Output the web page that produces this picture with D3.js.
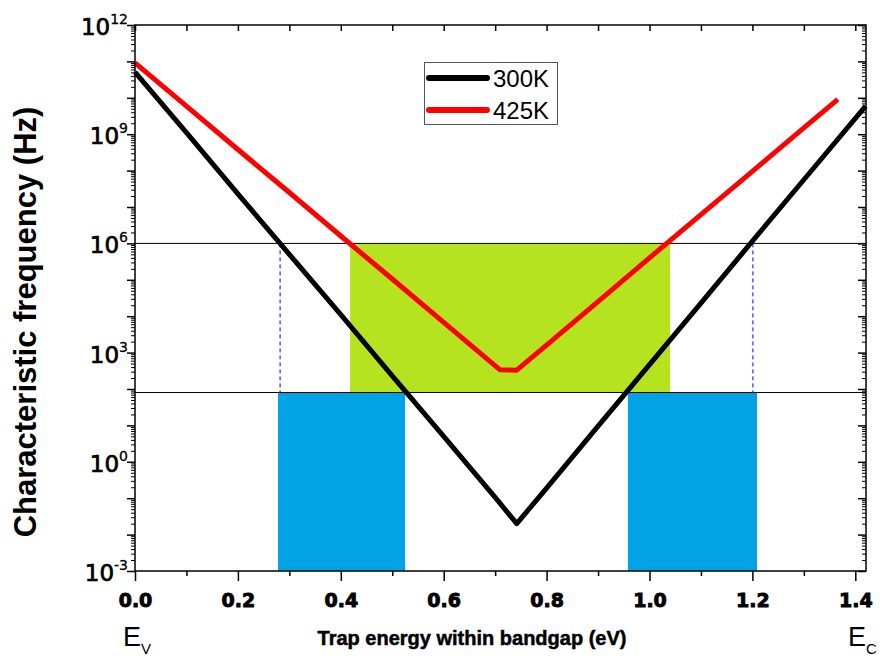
<!DOCTYPE html>
<html>
<head>
<meta charset="utf-8">
<script src="https://cdn.jsdelivr.net/npm/d3@7"></script>
<style>
  body { margin: 0; background: #fff; }
  svg { display: block; }
</style>
</head>
<body>
<script>
// trap energy (eV) and characteristic frequency (Hz)
var energy300 = [0, 0.1, 0.2, 0.3, 0.4, 0.5, 0.6, 0.7, 0.742, 0.8, 0.9, 1.0, 1.1, 1.2, 1.3, 1.42]
var freq300 = [5.1e10, 1.1e9, 2.3e7, 5.0e5, 1.1e4, 230, 5.0, 0.105, 0.02, 0.19, 9.5, 470, 2.3e4, 1.15e6, 5.6e7, 5.9e9]
var energy425 = [0, 0.1, 0.2, 0.3, 0.4, 0.5, 0.6, 0.709, 0.742, 0.8, 0.9, 1.0, 1.1, 1.2, 1.3, 1.366]
var freq425 = [9.1e10, 5.9e9, 3.8e8, 2.5e7, 1.6e6, 1.05e5, 6.8e3, 340, 330, 1.6e3, 2.5e4, 4.0e5, 6.2e6, 9.5e7, 1.5e9, 9.1e9]

var seriesNames = ['300K', '425K']
var seriesColors = ['#000000', '#ff0000']

// measurement window
var freqWindow = [80, 1e6]
var greenRange = [0.418, 1.04]
var blueRanges = [[0.278, 0.525], [0.958, 1.209]]
var dashedAt = [0.282, 1.201]

var xTicks = [0, 0.2, 0.4, 0.6, 0.8, 1.0, 1.2, 1.4]
var xMinor = [0.1, 0.3, 0.5, 0.7, 0.9, 1.1, 1.3]
var yLabelExp = [-3, 0, 3, 6, 9, 12]

var width = 881
var height = 659
var plotLeft = 135
var plotRight = 866
var plotTop = 25
var plotBottom = 571

var svg = d3.select('body').append('svg')
  .attr('width', width)
  .attr('height', height)

var x = d3.scaleLinear().domain([0, 1.4208]).range([plotLeft, plotRight])
var y = d3.scaleLog().domain([1e-3, 1e12]).range([plotBottom, plotTop])

// shaded regions
svg.append('rect')
  .attr('x', x(greenRange[0]))
  .attr('y', y(freqWindow[1]))
  .attr('width', x(greenRange[1]) - x(greenRange[0]))
  .attr('height', y(freqWindow[0]) - y(freqWindow[1]))
  .style('fill', '#b5e31f')

svg.selectAll('rect.blue')
  .data(blueRanges)
  .enter().append('rect')
  .attr('class', 'blue')
  .attr('x', function (d) { return x(d[0]) })
  .attr('y', y(freqWindow[0]))
  .attr('width', function (d) { return x(d[1]) - x(d[0]) })
  .attr('height', y(1e-3) - y(freqWindow[0]))
  .style('fill', '#02a3e4')

// window limits
svg.selectAll('line.hwin')
  .data(freqWindow)
  .enter().append('line')
  .attr('class', 'hwin')
  .attr('x1', plotLeft)
  .attr('x2', plotRight)
  .attr('y1', function (d) { return y(d) })
  .attr('y2', function (d) { return y(d) })
  .style('stroke', '#000')
  .style('stroke-width', 1)

svg.selectAll('line.vdash')
  .data(dashedAt)
  .enter().append('line')
  .attr('class', 'vdash')
  .attr('x1', function (d) { return x(d) })
  .attr('x2', function (d) { return x(d) })
  .attr('y1', y(freqWindow[1]))
  .attr('y2', y(freqWindow[0]))
  .style('stroke', '#0000ff')
  .style('stroke-width', 1)
  .style('stroke-dasharray', '4,3')

// curves
var line = d3.line()
  .x(function (d) { return x(d[0]) })
  .y(function (d) { return y(d[1]) })

var series = [d3.zip(energy300, freq300), d3.zip(energy425, freq425)]

svg.selectAll('path.curve')
  .data(series)
  .enter().append('path')
  .attr('class', 'curve')
  .attr('d', line)
  .style('fill', 'none')
  .style('stroke', function (d, i) { return seriesColors[i] })
  .style('stroke-width', 5)
  .style('stroke-linejoin', 'round')

// axes
var decades = d3.range(-3, 13).map(function (e) { return Math.pow(10, e) })
var yMinor = []
decades.slice(0, -1).forEach(function (d) {
  for (var k = 2; k < 10; k++) yMinor.push(d * k)
})

function styleAxis (g) {
  g.select('.domain').remove()
  g.selectAll('line').style('stroke', '#000').style('stroke-width', 1.5)
}

svg.append('g')
  .attr('transform', 'translate(0,' + plotBottom + ')')
  .call(d3.axisBottom(x).tickValues(xTicks).tickSize(10).tickFormat(d3.format('.1f')))
  .call(styleAxis)
  .call(function (g) {
    g.selectAll('text')
      .attr('y', 23)
      .attr('dy', '0.71em')
      .style('font-family', '"DejaVu Sans", sans-serif')
      .style('font-weight', 'bold')
      .style('font-size', '19px')
      .style('fill', '#000')
      .style('stroke', '#000')
      .style('stroke-width', 0.9)
  })

svg.append('g')
  .attr('transform', 'translate(0,' + plotBottom + ')')
  .call(d3.axisBottom(x).tickValues(xMinor).tickSize(5).tickFormat(''))
  .call(styleAxis)

svg.append('g')
  .attr('transform', 'translate(0,' + plotTop + ')')
  .call(d3.axisBottom(x).tickValues(xTicks.concat(xMinor)).tickSize(6).tickFormat(''))
  .call(styleAxis)

svg.append('g')
  .attr('transform', 'translate(' + plotLeft + ',0)')
  .call(d3.axisLeft(y).tickValues(decades).tickSize(8).tickFormat(''))
  .call(styleAxis)

svg.append('g')
  .attr('transform', 'translate(' + plotLeft + ',0)')
  .call(d3.axisLeft(y).tickValues(yMinor).tickSize(4).tickFormat(''))
  .call(styleAxis)
  .call(function (g) { g.selectAll('line').style('stroke-width', 1) })

svg.append('g')
  .attr('transform', 'translate(' + plotRight + ',0)')
  .call(d3.axisLeft(y).tickValues(decades).tickSize(8).tickFormat(''))
  .call(styleAxis)

svg.append('g')
  .attr('transform', 'translate(' + plotRight + ',0)')
  .call(d3.axisLeft(y).tickValues(yMinor).tickSize(4).tickFormat(''))
  .call(styleAxis)
  .call(function (g) { g.selectAll('line').style('stroke-width', 1) })

// y tick labels as 10^n
var yLab = svg.append('g')
  .selectAll('text')
  .data(yLabelExp)
  .enter().append('text')
  .attr('x', plotLeft - 7)
  .attr('y', function (d) { return y(Math.pow(10, d)) + 10 })
  .attr('text-anchor', 'end')
  .style('font-family', '"DejaVu Sans", sans-serif')
  .style('font-size', '23px')
  .style('fill', '#000')
  .style('stroke', '#000')
  .style('stroke-width', 0.7)
yLab.append('tspan').text('10')
yLab.append('tspan')
  .attr('dy', -11)
  .style('font-size', '14px')
  .style('stroke-width', 0.3)
  .text(function (d) { return d })

// frame
svg.append('rect')
  .attr('x', plotLeft)
  .attr('y', plotTop)
  .attr('width', plotRight - plotLeft)
  .attr('height', plotBottom - plotTop)
  .style('fill', 'none')
  .style('stroke', '#000')
  .style('stroke-width', 1.5)

// axis titles
svg.append('text')
  .attr('transform', 'translate(36,322) rotate(-90)')
  .attr('text-anchor', 'middle')
  .style('font-family', '"Liberation Sans", Arial, sans-serif')
  .style('font-weight', 'bold')
  .style('font-size', '31px')
  .style('fill', '#000')
  .text('Characteristic frequency (Hz)')

svg.append('text')
  .attr('x', 472)
  .attr('y', 645)
  .attr('text-anchor', 'middle')
  .style('font-family', '"Liberation Sans", Arial, sans-serif')
  .style('font-weight', 'bold')
  .style('font-size', '20px')
  .style('fill', '#000')
  .style('stroke', '#000')
  .style('stroke-width', 0.5)
  .text('Trap energy within bandgap (eV)')

// band edges
var edges = [{ e: 0, main: 'E', sub: 'V' }, { e: 1.4208, main: 'E', sub: 'C' }]
var edge = svg.selectAll('text.edge')
  .data(edges)
  .enter().append('text')
  .attr('class', 'edge')
  .attr('x', function (d, i) { return x(d.e) + (i === 0 ? -12 : -18) })
  .attr('y', 646)
  .style('font-family', '"Liberation Sans", Arial, sans-serif')
  .style('font-size', '27px')
  .style('fill', '#000')
edge.append('tspan').text(function (d) { return d.main })
edge.append('tspan')
  .attr('dy', 8)
  .style('font-size', '15px')
  .text(function (d) { return d.sub })

// legend
var legend = svg.append('g')
legend.append('rect')
  .attr('x', 424.5)
  .attr('y', 62.5)
  .attr('width', 133)
  .attr('height', 62)
  .style('fill', '#fff')
  .style('stroke', '#555')
  .style('stroke-width', 1)

var item = legend.selectAll('g.item')
  .data(seriesNames)
  .enter().append('g')
  .attr('class', 'item')
  .attr('transform', function (d, i) { return 'translate(0,' + (78 + i * 32) + ')' })
item.append('line')
  .attr('x1', 429)
  .attr('x2', 487)
  .style('stroke', function (d, i) { return seriesColors[i] })
  .style('stroke-width', 6)
  .style('stroke-linecap', 'round')
item.append('text')
  .attr('x', 493)
  .attr('y', 9)
  .style('font-family', '"Liberation Sans", Arial, sans-serif')
  .style('font-size', '24px')
  .style('fill', '#000')
  .text(function (d) { return d })
</script>
</body>
</html>
